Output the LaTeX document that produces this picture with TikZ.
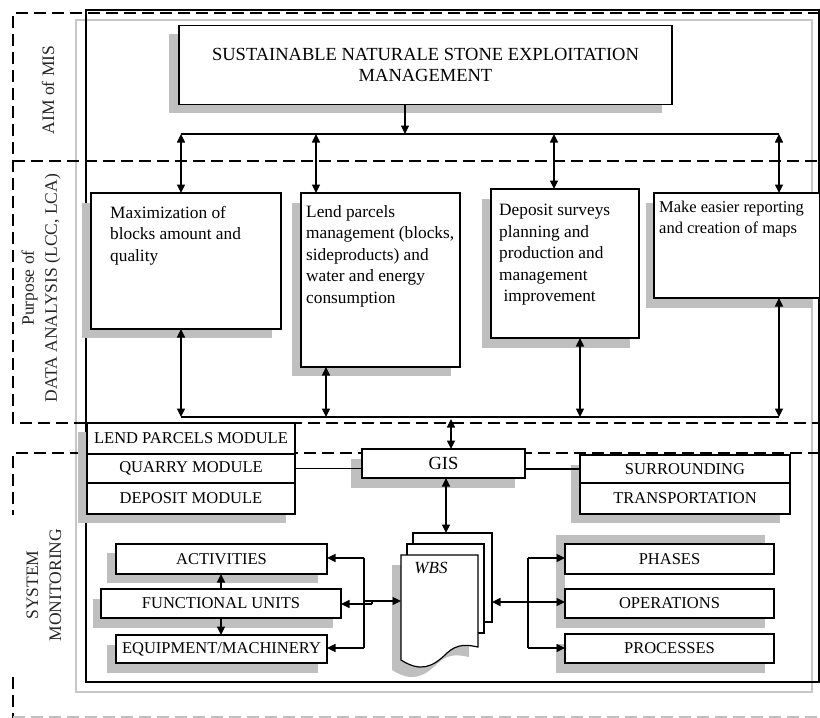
\documentclass[tikz,border=0pt]{standalone}
\usepackage{fontspec}
\setmainfont{Liberation Serif}
\usetikzlibrary{arrows.meta}

\tikzset{
  box/.style={draw=black, line width=1.2pt, fill=white, inner sep=0pt, outer sep=0pt},
  shade/.style={fill=black!25},
  conn/.style={line width=1.2pt},
  arr/.style={conn, -{Triangle[length=8.5pt,width=8pt]}},
  darr/.style={conn, {Triangle[length=8.5pt,width=8pt]}-{Triangle[length=8.5pt,width=8pt]}},
  sect/.style={line width=1.2pt, dash pattern=on 12pt off 6pt},
  lbl/.style={inner sep=0pt, text=black!85, align=center, font=\fontsize{17.5}{23}\selectfont},
  ptext/.style={inner sep=0pt, align=left, anchor=north west, font=\fontsize{17.3}{21.5}\selectfont},
  capfont/.style={font=\fontsize{16.5}{20}\selectfont}
}

\begin{document}
\begin{tikzpicture}[x=1pt,y=-1pt]
\useasboundingbox (0,0) rectangle (820,718);

% outer frames
\draw[black!22, line width=1.5pt] (76,20) rectangle (812,692);
\draw[line width=1.2pt] (86,10) rectangle (819,682);

% dashed section borders
\draw[sect] (820,13) -- (13,13) -- (13,423) -- (820,423);
\draw[sect] (13,161) -- (820,161);
\draw[sect] (820,453) -- (13,453) -- (13,515);
\draw[sect] (13,677) -- (13,718);
\draw[sect, black!25] (13,717) -- (820,717);

% section titles
\node[lbl, rotate=90] (aimlbl) at (48,90) {AIM of MIS};
\node[lbl, rotate=90] (purplbl) at (41,288) {Purpose of\\DATA ANALYSIS (LCC, LCA)};
\node[lbl, rotate=90] (monlbl) at (44,585) {SYSTEM\\MONITORING};

% goal box
\fill[shade] (169,34) rectangle (662,113);
\node[box, minimum width=493pt, minimum height=79pt, align=center,
      font=\fontsize{18.5}{20.5}\selectfont] (goal) at (425.5,65)
      {SUSTAINABLE NATURALE STONE EXPLOITATION\\MANAGEMENT};

% purpose boxes
\fill[shade] (82,203) rectangle (272,338);
\fill[shade] (292,203) rectangle (451,376);
\fill[shade] (482,199) rectangle (630,348);
\fill[shade] (646,203) rectangle (812,308);
\node[box, minimum width=190pt, minimum height=136pt] (p1) at (186,261) {};
\node[box, minimum width=159pt, minimum height=174pt] (p2) at (380.5,280) {};
\node[box, minimum width=148pt, minimum height=149pt] (p3) at (565,263.5) {};
\node[box, minimum width=166pt, minimum height=105pt] (p4) at (737,245.5) {};
\node[ptext] (p1t) at (110,206) {Maximization of\\blocks amount and\\quality};
\node[ptext] (p2t) at (306,205) {Lend parcels\\management (blocks,\\sideproducts) and\\water and energy\\consumption};
\node[ptext] (p3t) at (499,204) {Deposit surveys\\planning and\\production and\\management\\\ improvement};
\node[ptext, font=\fontsize{16.5}{21}\selectfont] (p4t) at (659,201) {Make easier reporting\\and creation of maps};

% upper distribution bus
\coordinate (gx) at (405,134);
\coordinate (t1) at (181,134);
\coordinate (t2) at (316,134);
\coordinate (t3) at (554,134);
\coordinate (t4) at (779,134);
\draw[conn] (t1) -- (t4);
\draw[arr] (gx |- goal.south) -- (gx);
\draw[darr] (t1) -- (t1 |- p1.north);
\draw[darr] (t2) -- (t2 |- p2.north);
\draw[darr] (t3) -- (t3 |- p3.north);
\draw[darr] (t4) -- (t4 |- p4.north);

% lower collection bus
\coordinate (b1) at (181,417);
\coordinate (b2) at (326,417);
\coordinate (b3) at (580,417);
\coordinate (b4) at (779,417);
\draw[conn] (b1) -- (b4);
\draw[darr] (b1 |- p1.south) -- (b1);
\draw[darr] (b2 |- p2.south) -- (b2);
\draw[darr] (b3 |- p3.south) -- (b3);
\draw[darr] (b4 |- p4.south) -- (b4);

% modules
\fill[shade] (78,432) rectangle (286,523);
\node[box, capfont, minimum width=208pt, minimum height=31pt] (lend) at (191,438.5) {LEND PARCELS MODULE};
\node[box, capfont, minimum width=208pt, minimum height=29pt] (quarry) at (191,468.5) {QUARRY MODULE};
\node[box, capfont, minimum width=208pt, minimum height=31pt] (deposit) at (191,498.5) {DEPOSIT MODULE};

% GIS
\fill[shade] (351,459) rectangle (515,488);
\node[box, font=\fontsize{18.5}{20}\selectfont, minimum width=163pt, minimum height=29pt] (gis) at (443.5,463.5) {GIS};

% surroundings
\fill[shade] (571,465) rectangle (780,523);
\node[box, capfont, minimum width=210pt, minimum height=28pt] (surr) at (685,469) {SURROUNDING};
\node[box, capfont, minimum width=210pt, minimum height=31pt] (trans) at (685,498.5) {TRANSPORTATION};

\coordinate (g1) at (451,419);
\draw[darr] (g1) -- (g1 |- gis.north);
\draw[conn] (quarry.east) -- (quarry.east -| gis.west);
\draw[conn] (gis.east |- surr.west) -- (surr.west);

% WBS document stack
\fill[shade] (392,565) -- (469,565) -- (469,657)
  .. controls (459,655) and (449,653) .. (438,663)
  .. controls (423,678) and (411,682) .. (392,670) -- cycle;
\draw[box] (413,533) rectangle (492,622);
\draw[box] (407,544) rectangle (484,633);
\draw[box] (401,555) -- (478,555) -- (478,647)
  .. controls (468,645) and (458,643) .. (447,653)
  .. controls (432,668) and (420,672) .. (401,660) -- cycle;
\node[inner sep=0pt, font=\fontsize{17}{20}\selectfont\itshape] (wbs) at (431,568) {WBS};
\coordinate (wbsTop) at (446,533);
\coordinate (wbsW) at (401,601);
\coordinate (wbsE) at (492,602);
\draw[darr] (wbsTop |- gis.south) -- (wbsTop);

% work units
\fill[shade] (107,553) rectangle (318,583);
\fill[shade] (93,599) rectangle (333,628);
\fill[shade] (107,645) rectangle (318,673);
\node[box, capfont, minimum width=211pt, minimum height=30pt] (act) at (221.5,559) {ACTIVITIES};
\node[box, capfont, minimum width=240pt, minimum height=29pt] (fu) at (221,603.5) {FUNCTIONAL UNITS};
\node[box, capfont, minimum width=211pt, minimum height=28pt] (eq) at (221.5,649) {EQUIPMENT/MACHINERY};
\draw[arr] (fu.north) -- (fu.north |- act.south);
\draw[arr] (fu.south) -- (fu.south |- eq.north);
\coordinate (lbT) at (364,558);
\coordinate (lbB) at (364,648);
\coordinate (lbM) at (364,601);
\coordinate (jog) at (372,604);
\draw[conn] (lbT) -- (lbB);
\draw[arr] (lbT) -- (lbT -| act.east);
\draw[arr] (lbB) -- (lbB -| eq.east);
\draw[arr] (jog) -- (jog -| fu.east);
\draw[conn] (jog) -- (jog |- lbM);
\draw[arr] (lbM) -- (wbsW);

% work breakdown levels
\fill[shade] (556,535) rectangle (765,565);
\fill[shade] (556,565) rectangle (565,599);
\fill[shade] (556,599) rectangle (765,628);
\fill[shade] (556,644) rectangle (765,673);
\node[box, capfont, minimum width=209pt, minimum height=30pt] (ph) at (669.5,559) {PHASES};
\node[box, capfont, minimum width=209pt, minimum height=29pt] (op) at (669.5,603.5) {OPERATIONS};
\node[box, capfont, minimum width=209pt, minimum height=29pt] (pr) at (669.5,648.5) {PROCESSES};
\coordinate (rbT) at (528,558);
\coordinate (rbM) at (528,602);
\coordinate (rbB) at (528,648);
\draw[conn] (rbT) -- (rbB);
\draw[arr] (rbT) -- (rbT -| ph.west);
\draw[arr] (rbM) -- (rbM -| op.west);
\draw[arr] (rbB) -- (rbB -| pr.west);
\draw[arr] (rbM) -- (wbsE);
\end{tikzpicture}
\end{document}
